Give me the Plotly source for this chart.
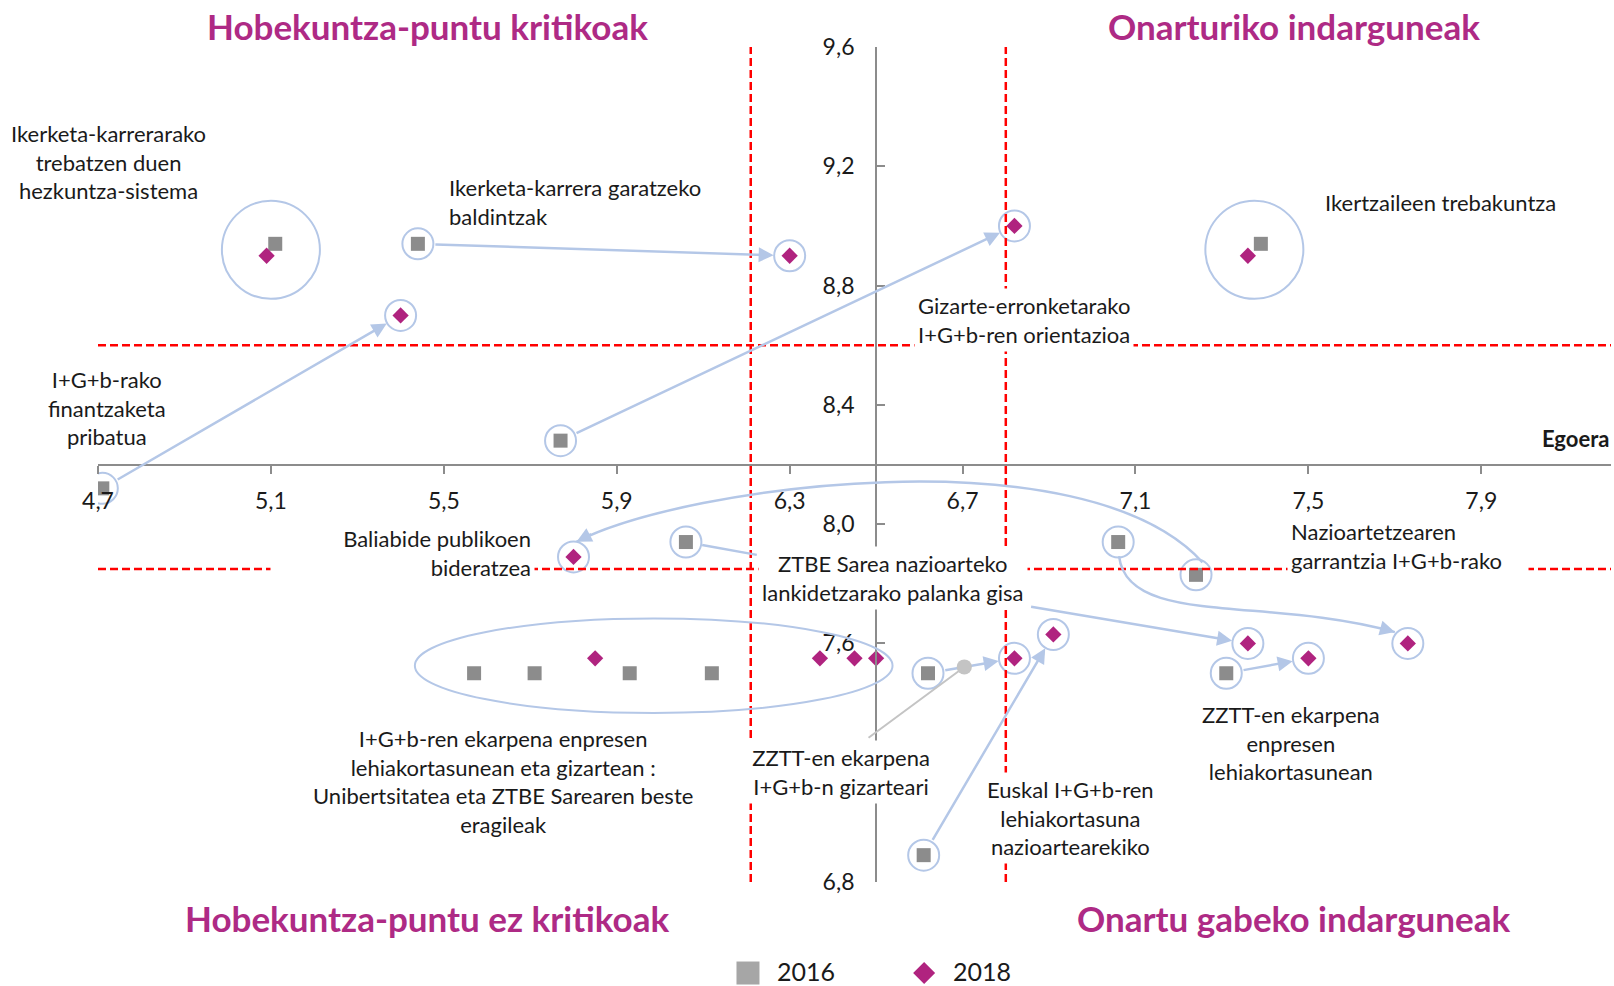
import plotly.graph_objects as go

# ---------------------------------------------------------------- data ----
items = [
    "Ikerketa-karrerarako trebatzen duen hezkuntza-sistema",
    "Ikerketa-karrera garatzeko baldintzak",
    "I+G+b-rako finantzaketa pribatua",
    "Gizarte-erronketarako I+G+b-ren orientazioa",
    "Ikertzaileen trebakuntza",
    "ZTBE Sarea nazioarteko lankidetzarako palanka gisa",
    "Nazioartetzearen garrantzia I+G+b-rako",
    "Baliabide publikoen bideratzea",
    "Euskal I+G+b-ren lehiakortasuna nazioartearekiko",
    "ZZTT-en ekarpena I+G+b-n gizarteari",
    "ZZTT-en ekarpena enpresen lehiakortasunean",
]
egoera_2016 = [5.11, 5.44, 4.71, 5.77, 7.39, 6.06, 7.06, 7.24, 6.61, 6.62, 7.31]
garrantzia_2016 = [8.94, 8.94, 8.12, 8.28, 8.94, 7.94, 7.94, 7.83, 6.89, 7.50, 7.50]
egoera_2018 = [5.09, 6.30, 5.40, 6.82, 7.36, 7.36, 7.73, 5.80, 6.91, 6.82, 7.50]
garrantzia_2018 = [8.90, 8.90, 8.70, 9.00, 8.90, 7.60, 7.60, 7.89, 7.63, 7.55, 7.55]

# I+G+b-ren ekarpena enpresen lehiakortasunean eta gizartean (eragile taldea)
group_egoera_2016 = [5.57, 5.71, 5.93, 6.12]
group_garrantzia_2016 = [7.50, 7.50, 7.50, 7.50]
group_egoera_2018 = [5.85, 6.37, 6.45, 6.50]
group_garrantzia_2018 = [7.55, 7.55, 7.55, 7.55]

x_range = [4.7, 8.2]
y_range = [6.8, 9.6]
x_cross, y_cross = 6.5, 8.2
egoera_cuts = [6.21, 6.80]
garrantzia_cuts = [8.60, 7.85]

x_ticks = [4.7, 5.1, 5.5, 5.9, 6.3, 6.7, 7.1, 7.5, 7.9]
y_ticks = [6.8, 7.6, 8.0, 8.4, 8.8, 9.2, 9.6]   # 7,2 sits under the ZZTT label

# ---------------------------------------------------------------- style ---
FONT = "Lato"
MAGENTA = "#b0237f"
GREY = "#8c8c8c"
BLUE = "#b4c7e7"
RED = "#ff0000"
TEXT = "#1a1a1a"

PAIRED = [0, 4]                       # both years inside one big circle
SINGLE = [i for i in range(len(items)) if i not in PAIRED]
STRAIGHT = [1, 2, 3, 8, 9, 10]        # direct 2016 -> 2018 arrows

fig = go.Figure()

# small circles around every single point
fig.add_trace(go.Scatter(
    x=[egoera_2016[i] for i in SINGLE] + [egoera_2018[i] for i in SINGLE],
    y=[garrantzia_2016[i] for i in SINGLE] + [garrantzia_2018[i] for i in SINGLE],
    mode="markers", hoverinfo="skip",
    marker=dict(symbol="circle-open", size=31, color=BLUE, line=dict(width=2, color=BLUE)),
))
# big circles around the pairs
fig.add_trace(go.Scatter(
    x=[(egoera_2016[i] + egoera_2018[i]) / 2 for i in PAIRED],
    y=[(garrantzia_2016[i] + garrantzia_2018[i]) / 2 for i in PAIRED],
    mode="markers", hoverinfo="skip",
    marker=dict(symbol="circle-open", size=98, color=BLUE, line=dict(width=2, color=BLUE)),
))
# 2016 squares
fig.add_trace(go.Scatter(
    x=egoera_2016 + group_egoera_2016, y=garrantzia_2016 + group_garrantzia_2016,
    mode="markers", name="2016",
    text=items + ["I+G+b-ren ekarpena"] * 4,
    marker=dict(symbol="square", size=14, color=GREY),
))
# 2018 diamonds
fig.add_trace(go.Scatter(
    x=egoera_2018 + group_egoera_2018, y=garrantzia_2018 + group_garrantzia_2018,
    mode="markers", name="2018",
    text=items + ["I+G+b-ren ekarpena"] * 4,
    marker=dict(symbol="diamond", size=12.5, color=MAGENTA),
))

shapes = []
# quadrant threshold lines
for xc in egoera_cuts:
    shapes.append(dict(type="line", xref="x", yref="y", x0=xc, x1=xc,
                       y0=y_range[0], y1=y_range[1], layer="above",
                       line=dict(color=RED, width=2.5, dash="8px,4px")))
for yc in garrantzia_cuts:
    shapes.append(dict(type="line", xref="x", yref="y", x0=x_range[0], x1=x_range[1],
                       y0=yc, y1=yc, layer="above",
                       line=dict(color=RED, width=2.5, dash="8px,4px")))

# ellipse around the group of agents
gx = group_egoera_2016 + group_egoera_2018
gy = group_garrantzia_2016 + group_garrantzia_2018
shapes.append(dict(type="circle", xref="x", yref="y",
                   x0=min(gx) - 0.137, x1=max(gx) + 0.038,
                   y0=min(gy) - 0.133, y1=max(gy) + 0.134,
                   line=dict(color=BLUE, width=2)))

annotations = []


def arrow(x, y, ax, ay, standoff=16, startstandoff=16, head=2, color=BLUE, width=2.5, size=1.2):
    annotations.append(dict(
        x=x, y=y, ax=ax, ay=ay, xref="x", yref="y", axref="x", ayref="y",
        text="", showarrow=True, arrowhead=head, arrowsize=size, arrowwidth=width,
        arrowcolor=color, standoff=standoff, startstandoff=startstandoff,
    ))


for i in STRAIGHT:
    arrow(egoera_2018[i], garrantzia_2018[i], egoera_2016[i], garrantzia_2016[i])

# ZTBE Sarea: connector to the label, then from the label to 2018
arrow(6.224, 7.897, egoera_2016[5], garrantzia_2016[5], standoff=0, startstandoff=15, head=0)
arrow(egoera_2018[5], garrantzia_2018[5], 6.855, 7.724, standoff=16, startstandoff=0)

# ZZTT gizarteari: grey callout ending in a dot on its arrow
j = 9
dot_x = egoera_2016[j] + 0.42 * (egoera_2018[j] - egoera_2016[j])
dot_y = garrantzia_2016[j] + 0.42 * (garrantzia_2018[j] - garrantzia_2016[j])
arrow(dot_x, dot_y, 6.479, 7.280, standoff=0, startstandoff=0, head=6,
      color="#c4c4c4", width=2, size=1.9)


# curved arrows (cubic Bezier) for Baliabide and Nazioartetzearen
def curve(i, start_off, c1_off, c2_off, end_off, tail=0.15):
    p0 = (egoera_2016[i] + start_off[0], garrantzia_2016[i] + start_off[1])
    p3 = (egoera_2018[i] + end_off[0], garrantzia_2018[i] + end_off[1])
    p1 = (p0[0] + c1_off[0], p0[1] + c1_off[1])
    p2 = (p3[0] + c2_off[0], p3[1] + c2_off[1])
    shapes.append(dict(
        type="path", xref="x", yref="y", layer="above",
        path=f"M {p0[0]},{p0[1]} C {p1[0]},{p1[1]} {p2[0]},{p2[1]} {p3[0]},{p3[1]}",
        line=dict(color=BLUE, width=2.5),
    ))
    arrow(p3[0], p3[1], p3[0] + tail * (p2[0] - p3[0]), p3[1] + tail * (p2[1] - p3[1]),
          standoff=0, startstandoff=0)


curve(7, (0.015, 0.042), (-0.274, 0.438), (0.249, 0.187), (0.007, 0.051))
curve(6, (0.002, -0.047), (0.019, -0.238), (-0.298, 0.121), (-0.03, 0.038), tail=0.12)

# point labels: text, x, y, xanchor, align, white box, box width
labels = [
    ("Ikerketa-karrerarako<br>trebatzen duen<br>hezkuntza-sistema", 4.724, 9.214, "center", "center", False, None),
    ("Ikerketa-karrera garatzeko<br>baldintzak", 5.502, 9.079, "left", "left", False, None),
    ("I+G+b-rako<br>finantzaketa<br>pribatua", 4.721, 8.390, "center", "center", False, None),
    ("Gizarte-erronketarako<br>I+G+b-ren orientazioa", 6.588, 8.683, "left", "left", True, None),
    ("Ikertzaileen trebakuntza", 7.529, 9.079, "left", "left", False, None),
    ("Baliabide publikoen<br>bideratzea", 5.71, 7.903, "right", "right", True, 257),
    ("ZTBE Sarea nazioarteko<br>lankidetzarako palanka gisa", 6.540, 7.821, "center", "center", True, None),
    ("Nazioartetzearen<br>garrantzia I+G+b-rako", 7.45, 7.928, "left", "left", True, 234),
    ("I+G+b-ren ekarpena enpresen<br>lehiakortasunean eta gizartean :<br>"
     "Unibertsitatea eta ZTBE Sarearen beste<br>eragileak", 5.636, 7.138, "center", "center", False, None),
    ("ZZTT-en ekarpena<br>I+G+b-n gizarteari", 6.419, 7.169, "center", "center", True, 190),
    ("Euskal I+G+b-ren<br>lehiakortasuna<br>nazioartearekiko", 6.95, 7.014, "center", "center", True, None),
    ("ZZTT-en ekarpena<br>enpresen<br>lehiakortasunean", 7.46, 7.266, "center", "center", False, None),
]
for text, x, y, xa, al, box, w in labels:
    ann = dict(text=text, x=x, y=y, xref="x", yref="y", xanchor=xa, yanchor="middle",
               align=al, showarrow=False, font=dict(family=FONT, size=22, color=TEXT),
               borderpad=3)
    if box:
        ann["bgcolor"] = "white"
    if w:
        ann["width"] = w
    annotations.append(ann)

# axis titles
annotations.append(dict(text="<b>Egoera</b>", x=x_range[1], y=8.286, xref="x", yref="y",
                        xanchor="right", yanchor="middle", showarrow=False,
                        font=dict(family=FONT, size=22, color=TEXT)))
annotations.append(dict(text="<b>Garrantzia</b>", x=6.44, y=6.648, xref="x", yref="y",
                        xanchor="center", yanchor="middle", showarrow=False,
                        font=dict(family=FONT, size=22, color=TEXT)))

# quadrant titles
quadrants = [
    ("Hobekuntza-puntu kritikoak", 0.2175, 1.0255),
    ("Onarturiko indarguneak", 0.7905, 1.0255),
    ("Hobekuntza-puntu ez kritikoak", 0.2175, -0.0431),
    ("Onartu gabeko indarguneak", 0.7905, -0.0431),
]
for text, xp, yp in quadrants:
    annotations.append(dict(text=f"<b>{text}</b>", x=xp, y=yp, xref="paper", yref="paper",
                            xanchor="center", yanchor="middle", showarrow=False,
                            font=dict(family=FONT, size=35, color="#ae2a85")))

# legend
legend_y = -0.109
shapes.append(dict(type="rect", xref="paper", yref="paper", xsizemode="pixel", ysizemode="pixel",
                   xanchor=0.4296, yanchor=legend_y, x0=-11.5, x1=11.5, y0=-11.5, y1=11.5,
                   fillcolor="#a6a6a6", line=dict(width=0)))
shapes.append(dict(type="path", xref="paper", yref="paper", xsizemode="pixel", ysizemode="pixel",
                   xanchor=0.546, yanchor=legend_y, path="M -11,0 L 0,11 L 11,0 L 0,-11 Z",
                   fillcolor=MAGENTA, line=dict(width=0)))
for text, xp in [("2016", 0.448), ("2018", 0.5644)]:
    annotations.append(dict(text=text, x=xp, y=legend_y + 0.003, xref="paper", yref="paper",
                            xanchor="left", yanchor="middle", showarrow=False, borderpad=0,
                            font=dict(family=FONT, size=25, color=TEXT)))

axis_common = dict(showline=True, linecolor=GREY, linewidth=2, tickwidth=2, tickcolor=GREY,
                   ticklen=8, showgrid=False, zeroline=False, tickformat=".1f",
                   tickfont=dict(family=FONT, size=23, color=TEXT), anchor="free")

fig.update_layout(
    width=1614, height=986,
    margin=dict(l=98, r=3, t=47, b=104),
    plot_bgcolor="white", paper_bgcolor="white",
    showlegend=False, separators=",.",
    font=dict(family=FONT, color=TEXT),
    xaxis=dict(range=x_range, tickvals=x_ticks, ticks="outside", ticklabelstandoff=8,
               position=(y_cross - y_range[0]) / (y_range[1] - y_range[0]), **axis_common),
    yaxis=dict(range=y_range, tickvals=y_ticks, ticks="inside", ticklabelstandoff=16,
               position=(x_cross - x_range[0]) / (x_range[1] - x_range[0]), **axis_common),
    shapes=shapes,
    annotations=annotations,
)

fig.write_html("out.html")
